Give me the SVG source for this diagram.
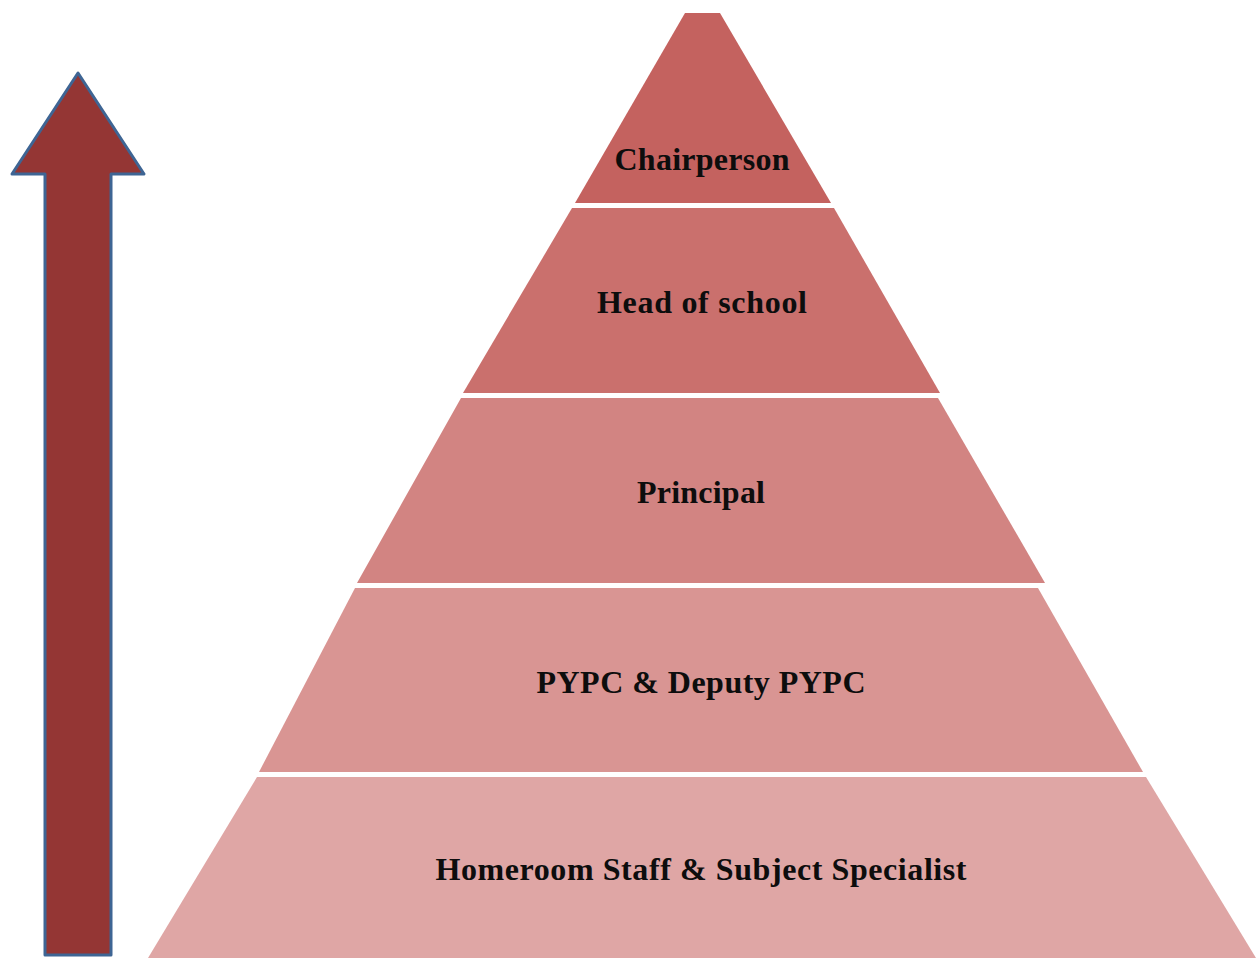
<svg xmlns="http://www.w3.org/2000/svg" width="1257" height="958" viewBox="0 0 1257 958">
<style>
.lbl{font-family:"Liberation Serif","Times New Roman",serif;font-weight:bold;font-size:32px;fill:#0d0d0d;text-anchor:middle}
.band{stroke:none}
</style>
<rect x="0" y="0" width="1257" height="958" fill="#ffffff"/>
<g id="arrow">
<path d="M78,73 L144,174 L111,174 L111,955 L45,955 L45,174 L12,174 Z" fill="#943634" stroke="#3E6594" stroke-width="3" stroke-linejoin="round"/>
</g>
<g id="chairperson">
<polygon class="band" points="685,13 720,13 831,203 575,203" fill="#C4625F"/>
<text class="lbl" x="702" y="170" textLength="175">Chairperson</text>
</g>
<g id="head-of-school">
<polygon class="band" points="572,208 834,208 940,393 463,393" fill="#CA706D"/>
<text class="lbl" x="702" y="313" textLength="210">Head of school</text>
</g>
<g id="principal">
<polygon class="band" points="461,398 938,398 1045,583 357,583" fill="#D28482"/>
<text class="lbl" x="701" y="503" textLength="128">Principal</text>
</g>
<g id="pypc">
<polygon class="band" points="355,588 1038,588 1143,772 259,772" fill="#D99593"/>
<text class="lbl" x="701" y="693" textLength="329">PYPC &amp; Deputy PYPC</text>
</g>
<g id="homeroom">
<polygon class="band" points="257,777 1146,777 1256,958 148,958" fill="#DFA6A5"/>
<text class="lbl" x="701" y="880" textLength="531">Homeroom Staff &amp; Subject Specialist</text>
</g>
<g id="connectors"></g>
</svg>
